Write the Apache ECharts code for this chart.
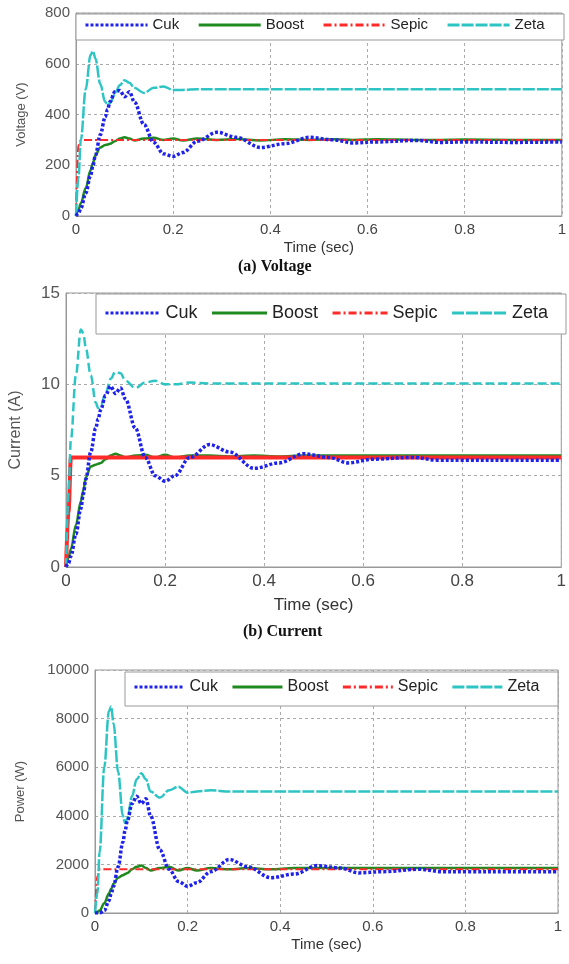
<!DOCTYPE html>
<html>
<head>
<meta charset="utf-8">
<script src="https://cdn.jsdelivr.net/npm/echarts@6/dist/echarts.min.js"></script>
<style>
  html, body { margin: 0; padding: 0; background: #fff; }
  #chart { width: 569px; height: 964px; }
</style>
</head>
<body>
<div id="chart"></div>
<script>
// time samples (sec)
const t = [0, 0.005, 0.01, 0.02, 0.03, 0.035, 0.04, 0.05, 0.06, 0.065, 0.07, 0.08, 0.09, 0.1, 0.11, 0.12,
  0.14, 0.16, 0.18, 0.2, 0.22, 0.25, 0.29, 0.33, 0.38, 0.43, 0.48, 0.53, 0.57, 0.62, 0.7, 0.75, 0.8, 0.9, 1.0];

const names = ["Cuk", "Boost", "Sepic", "Zeta"];

// (a) voltage
const cukV = [0, 10, 30, 90, 160, 200, 240, 320, 390, 420, 450, 490, 495, 470, 490, 450,
  360, 290, 245, 235, 250, 295, 330, 310, 270, 285, 310, 300, 288, 292, 298, 290, 292, 290, 292];
const boostV = [0, 25, 50, 110, 180, 210, 240, 270, 280, 282, 285, 295, 305, 310, 305, 298,
  305, 308, 300, 305, 298, 305, 300, 303, 298, 302, 300, 302, 300, 302, 300, 300, 301, 300, 300];
const sepicV = [0, 280, 300, 300, 300, 300, 300, 300, 300, 300, 300, 300, 300, 300, 300, 300,
  300, 300, 300, 300, 300, 300, 300, 300, 300, 300, 300, 300, 300, 300, 300, 300, 300, 300, 300];
const zetaV = [0, 150, 300, 500, 635, 650, 620, 520, 450, 440, 445, 480, 515, 535, 525, 505,
  485, 505, 510, 497, 497, 500, 500, 500, 500, 500, 500, 500, 500, 500, 500, 500, 500, 500, 500];

// (b) current
const cukI = [0, 0.2, 0.6, 1.8, 3.2, 4.0, 4.8, 6.3, 7.6, 8.1, 8.6, 9.4, 9.9, 9.5, 9.8, 9.2,
  7.6, 6.0, 5.0, 4.7, 5.0, 6.0, 6.7, 6.3, 5.4, 5.7, 6.2, 6.0, 5.7, 5.9, 6.0, 5.85, 5.85, 5.85, 5.85];
const boostI = [0, 0.5, 1.0, 2.3, 3.6, 4.2, 4.9, 5.5, 5.6, 5.65, 5.7, 5.9, 6.1, 6.2, 6.1, 6.0,
  6.1, 6.15, 6.0, 6.15, 6.0, 6.1, 6.1, 6.05, 6.1, 6.05, 6.1, 6.1, 6.1, 6.1, 6.1, 6.1, 6.1, 6.1, 6.1];
const sepicI = [0, 3, 6, 6, 6, 6, 6, 6, 6, 6, 6, 6, 6, 6, 6, 6,
  6, 6, 6, 6, 6, 6, 6, 6, 6, 6, 6, 6, 6, 6, 6, 6, 6, 6, 6];
const zetaI = [0, 4, 7, 10.5, 13, 12.8, 12, 10.5, 9, 8.7, 8.8, 9.5, 10.3, 10.7, 10.6, 10.2,
  9.8, 10.1, 10.2, 10, 10, 10.1, 10.05, 10.05, 10.05, 10.05, 10.05, 10.05, 10.05, 10.05, 10.05, 10.05, 10.05, 10.05, 10.05];

// (c) power
const cukP = [0, 0, 0, 100, 500, 800, 1100, 1900, 2900, 3400, 3800, 4500, 4800, 4500, 4700, 4000,
  2600, 1800, 1300, 1100, 1250, 1700, 2200, 1900, 1450, 1600, 1950, 1850, 1650, 1700, 1800, 1700, 1700, 1700, 1700];
const boostP = [0, 50, 100, 400, 800, 1000, 1200, 1450, 1550, 1600, 1650, 1800, 1900, 1950, 1850, 1750,
  1850, 1900, 1750, 1850, 1750, 1850, 1800, 1850, 1800, 1850, 1850, 1850, 1850, 1850, 1850, 1850, 1850, 1850, 1850];
const sepicP = [0, 1500, 1800, 1800, 1800, 1800, 1800, 1800, 1800, 1800, 1800, 1800, 1800, 1800, 1800, 1800,
  1800, 1800, 1800, 1800, 1800, 1800, 1800, 1800, 1800, 1800, 1800, 1800, 1800, 1800, 1800, 1800, 1800, 1800, 1800];
const zetaP = [0, 800, 2500, 6000, 8300, 8500, 7800, 5800, 4000, 3700, 3900, 4800, 5500, 5750, 5500, 5000,
  4750, 5050, 5200, 4950, 5000, 5050, 5000, 5000, 5000, 5000, 5000, 5000, 5000, 5000, 5000, 5000, 5000, 5000, 5000];

const colors = { Cuk: "#1f22e8", Boost: "#1f8a1f", Sepic: "#ff2a2a", Zeta: "#2fc4c4" };
const styles = {
  Cuk: { type: [3, 2], width: 3.5 },
  Boost: { type: "solid", width: 2.5 },
  Sepic: { type: [8, 3, 2, 3], width: 2 },
  Zeta: { type: [12, 2], width: 2.5 },
};

const pairs = (vals) => t.map((x, i) => [x, vals[i]]);

const grids = [
  { left: 76, right: 5, top: 13, height: 203 },
  { left: 63, right: 3, top: 293, height: 274 },
  { left: 95, right: 11, top: 670, height: 243 },
];
const yConf = [
  { name: "Voltage (V)", max: 800, interval: 200, gap: 48, fs: 13 },
  { name: "Current (A)", max: 15, interval: 5, gap: 42, fs: 16 },
  { name: "Power (W)", max: 10000, interval: 2000, gap: 68, fs: 13 },
];
const data = [
  [cukV, boostV, sepicV, zetaV],
  [cukI, boostI, sepicI, zetaI],
  [cukP, boostP, sepicP, zetaP],
];
// legend boxes
const boxes = [
  { x: 76, y: 14, w: 488, h: 26, fs: 15, iw: 62, gap: 18 },
  { x: 96, y: 294, w: 470, h: 40, fs: 18, iw: 55, gap: 13 },
  { x: 125, y: 672, w: 433, h: 34, fs: 16, iw: 50, gap: 13 },
];

const series = [];
data.forEach((set, g) => {
  set.forEach((vals, k) => {
    const n = names[k];
    let ls = Object.assign({ color: colors[n] }, styles[n]);
    if (g === 1 && n === "Sepic") ls = { color: colors[n], type: "solid", width: 4 };
    if (g === 1 && n === "Zeta") ls = { color: colors[n], type: [9, 4], width: 2.5 };
    series.push({
      name: n,
      type: "line",
      xAxisIndex: g,
      yAxisIndex: g,
      showSymbol: false,
      symbol: "none",
      smooth: 0.35,
      smoothMonotone: "x",
      lineStyle: ls,
      itemStyle: { color: colors[n] },
      z: n === "Cuk" ? 4 : 3,
      data: pairs(vals),
    });
  });
});

const chart = echarts.init(document.getElementById("chart"));
chart.setOption({
  animation: false,
  backgroundColor: "#fff",
  grid: grids.map((g) => Object.assign({ show: true, borderColor: "#999", borderWidth: 1 }, g)),
  xAxis: grids.map((g, i) => ({
    type: "value",
    gridIndex: i,
    min: 0,
    max: 1,
    interval: 0.2,
    name: "Time (sec)",
    nameLocation: "middle",
    nameGap: i === 1 ? 30 : 24,
    nameTextStyle: { fontFamily: "Liberation Sans", fontSize: i === 1 ? 17 : 15, color: "#333" },
    axisLine: { lineStyle: { color: "#999" } },
    axisTick: { show: false },
    axisLabel: { fontFamily: "Liberation Sans", fontSize: i === 1 ? 17 : 15, color: "#444", margin: 6 },
    splitLine: { show: true, lineStyle: { type: [3, 3], color: "#aaa" } },
  })),
  yAxis: yConf.map((y, i) => ({
    type: "value",
    gridIndex: i,
    min: 0,
    max: y.max,
    interval: y.interval,
    name: y.name,
    nameLocation: "middle",
    nameGap: y.gap,
    nameRotate: 90,
    nameTextStyle: { fontFamily: "Liberation Sans", fontSize: y.fs, color: "#555" },
    axisLine: { show: true, lineStyle: { color: "#999" } },
    axisTick: { show: false },
    axisLabel: {
      fontFamily: "Liberation Sans",
      fontSize: i === 1 ? 17 : 15,
      color: "#555",
      margin: 6,
      formatter: (v) => String(v),
    },
    splitLine: { show: true, lineStyle: { type: [3, 3], color: "#aaa" } },
  })),
  legend: boxes.map((b) => ({
    left: b.x + 8,
    top: b.y + (b.h - 20) / 2,
    orient: "horizontal",
    data: names,
    itemWidth: b.iw,
    itemHeight: 20,
    itemGap: b.gap,
    padding: 0,
    itemStyle: { opacity: 0 },
    lineStyle: { width: 3 },
    textStyle: { fontFamily: "Liberation Sans", fontSize: b.fs, color: "#222" },
    z: 6,
  })),
  graphic: boxes.map((b) => ({
    type: "rect",
    z: 5,
    shape: { x: b.x, y: b.y, width: b.w, height: b.h },
    style: { fill: "#fff", stroke: "#999", lineWidth: 1 },
  })).concat([
    { type: "text", left: 238, top: 259, z: 5, style: { text: "(a) Voltage", font: "bold 16px 'Liberation Serif'", fill: "#111" } },
    { type: "text", left: 243, top: 624, z: 5, style: { text: "(b) Current", font: "bold 16px 'Liberation Serif'", fill: "#111" } },
  ]),
  series: series,
});
</script>
</body>
</html>
